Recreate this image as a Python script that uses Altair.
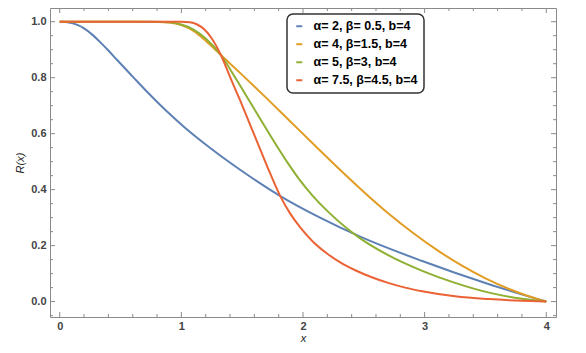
import altair as alt
import pandas as pd

series_names = ["α= 2, β= 0.5, b=4", "α= 4, β=1.5, b=4", "α= 5, β=3, b=4", "α= 7.5, β=4.5, b=4"]
series_colors = ["#5E81B5", "#E19C24", "#8FB032", "#EB6235"]

blue_x = [0.0, 0.05, 0.1, 0.15, 0.2, 0.27, 0.33, 0.4, 0.47, 0.6, 0.74, 0.88, 1.02, 1.24, 1.48, 1.81, 2.14, 2.47, 2.98, 3.53, 4.0]
blue_y = [1.0, 0.999, 0.995, 0.988, 0.976, 0.953, 0.928, 0.897, 0.864, 0.804, 0.740, 0.680, 0.625, 0.548, 0.472, 0.378, 0.300, 0.232, 0.145, 0.062, 0.0]

orange_x = [0.0, 0.6, 0.8, 0.9, 1.0, 1.1, 1.2, 1.325, 1.5, 1.7, 1.9, 2.1, 2.3, 2.5, 2.7, 2.9, 3.1, 3.3, 3.5, 3.7, 3.85, 4.0]
orange_y = [1.0, 1.0, 0.999, 0.997, 0.988, 0.967, 0.932, 0.881, 0.810, 0.727, 0.642, 0.557, 0.473, 0.392, 0.316, 0.247, 0.185, 0.130, 0.083, 0.044, 0.020, 0.0]

green_x = [0.0, 0.8, 0.9, 1.0, 1.1, 1.2, 1.325, 1.45, 1.566, 1.68, 1.786, 1.88, 1.977, 2.08, 2.197, 2.36, 2.47, 2.70, 2.98, 3.25, 3.53, 3.80, 4.0]
green_y = [1.0, 1.0, 0.998, 0.990, 0.972, 0.940, 0.881, 0.795, 0.712, 0.630, 0.555, 0.492, 0.432, 0.378, 0.325, 0.262, 0.226, 0.166, 0.110, 0.067, 0.032, 0.010, 0.0]

red_x = [0.0, 1.0, 1.07, 1.13, 1.19, 1.25, 1.325, 1.40, 1.484, 1.567, 1.649, 1.73, 1.813, 1.89, 1.977, 2.08, 2.197, 2.31, 2.43, 2.56, 2.70, 2.84, 2.98, 3.25, 3.53, 3.80, 4.0]
red_y = [1.0, 1.0, 0.998, 0.990, 0.972, 0.940, 0.881, 0.803, 0.718, 0.630, 0.543, 0.458, 0.377, 0.318, 0.265, 0.215, 0.172, 0.139, 0.112, 0.088, 0.067, 0.050, 0.037, 0.019, 0.009, 0.003, 0.0]

x_major = [0, 1, 2, 3, 4]
x_minor = [0.2, 0.4, 0.6, 0.8, 1.2, 1.4, 1.6, 1.8, 2.2, 2.4, 2.6, 2.8, 3.2, 3.4, 3.6, 3.8]
y_major = [0.0, 0.2, 0.4, 0.6, 0.8, 1.0]
y_minor = [-0.05, 0.05, 0.1, 0.15, 0.25, 0.3, 0.35, 0.45, 0.5, 0.55, 0.65, 0.7, 0.75, 0.85, 0.9, 0.95, 1.05]

rows = []
for name, xs_, ys_ in zip(series_names, [blue_x, orange_x, green_x, red_x], [blue_y, orange_y, green_y, red_y]):
    for xv, yv in zip(xs_, ys_):
        rows.append({"series": name, "x": xv, "y": yv})
df = pd.DataFrame(rows)

W, H = 506, 309
frame_color = "#8a8a8a"
label_color = "#444444"
font = "Liberation Sans"

xs = alt.Scale(domain=[-0.08, 4.08], nice=False, zero=False)
ys = alt.Scale(domain=[-0.055, 1.049], nice=False, zero=False)

x_axis = alt.Axis(values=x_major, format="d", ticks=False, domain=False, grid=False,
                  labelFont=font, labelFontSize=11, labelFontWeight="bold",
                  labelColor=label_color, labelPadding=3,
                  title="x", titleFont=font, titleFontStyle="italic",
                  titleFontWeight="normal", titleFontSize=11, titleColor="#222222",
                  titlePadding=1)
y_axis = alt.Axis(values=y_major, format=".1f", ticks=False, domain=False, grid=False,
                  labelFont=font, labelFontSize=11, labelFontWeight="bold",
                  labelColor=label_color, labelPadding=4,
                  title="R(x)", titleFont=font, titleFontStyle="italic",
                  titleFontWeight="normal", titleFontSize=11, titleColor="#222222",
                  titlePadding=5)

lines = alt.Chart(df).mark_line(strokeWidth=2, interpolate="monotone").encode(
    x=alt.X("x:Q", scale=xs, axis=x_axis, title="x"),
    y=alt.Y("y:Q", scale=ys, axis=y_axis, title="R(x)"),
    color=alt.Color("series:N", scale=alt.Scale(domain=series_names, range=series_colors),
                    legend=alt.Legend(title=None, orient="none", legendX=237, legendY=6)),
)

def ytick_layers(vals, length):
    d = pd.DataFrame({"v": vals})
    ly = alt.Chart(d).mark_rule(color=frame_color, strokeWidth=1)
    yenc = alt.Y("v:Q", scale=ys, axis=y_axis, title="R(x)")
    return [
        ly.encode(y=yenc, x=alt.value(0), x2=alt.value(length)),
        ly.encode(y=yenc, x=alt.value(W), x2=alt.value(W - length)),
    ]

def xtick_layers(vals, length):
    d = pd.DataFrame({"v": vals})
    ly = alt.Chart(d).mark_rule(color=frame_color, strokeWidth=1)
    xenc = alt.X("v:Q", scale=xs, axis=x_axis, title="x")
    return [
        ly.encode(x=xenc, y=alt.value(0), y2=alt.value(length)),
        ly.encode(x=xenc, y=alt.value(H), y2=alt.value(H - length)),
    ]

ticks = ytick_layers(y_major, 5) + ytick_layers(y_minor, 3) + xtick_layers(x_major, 5) + xtick_layers(x_minor, 3)

chart = alt.layer(lines, *ticks).properties(
    width=W, height=H,
    padding={"left": 42, "top": 0, "right": 22, "bottom": 28},
    autosize=alt.AutoSizeParams(type="none"),
).configure_view(
    stroke=frame_color, strokeWidth=1
).configure_legend(
    padding=6, cornerRadius=6, strokeColor="#333333", strokeWidth=1.5, fillColor="white",
    labelFont=font, labelFontSize=12.5, labelFontWeight="bold", labelColor="#000000",
    symbolType="stroke", symbolStrokeWidth=2, symbolSize=36, rowPadding=5, labelOffset=8,
    labelLimit=300
)

chart.save("out.html", embed_options={"renderer": "svg", "actions": False})
